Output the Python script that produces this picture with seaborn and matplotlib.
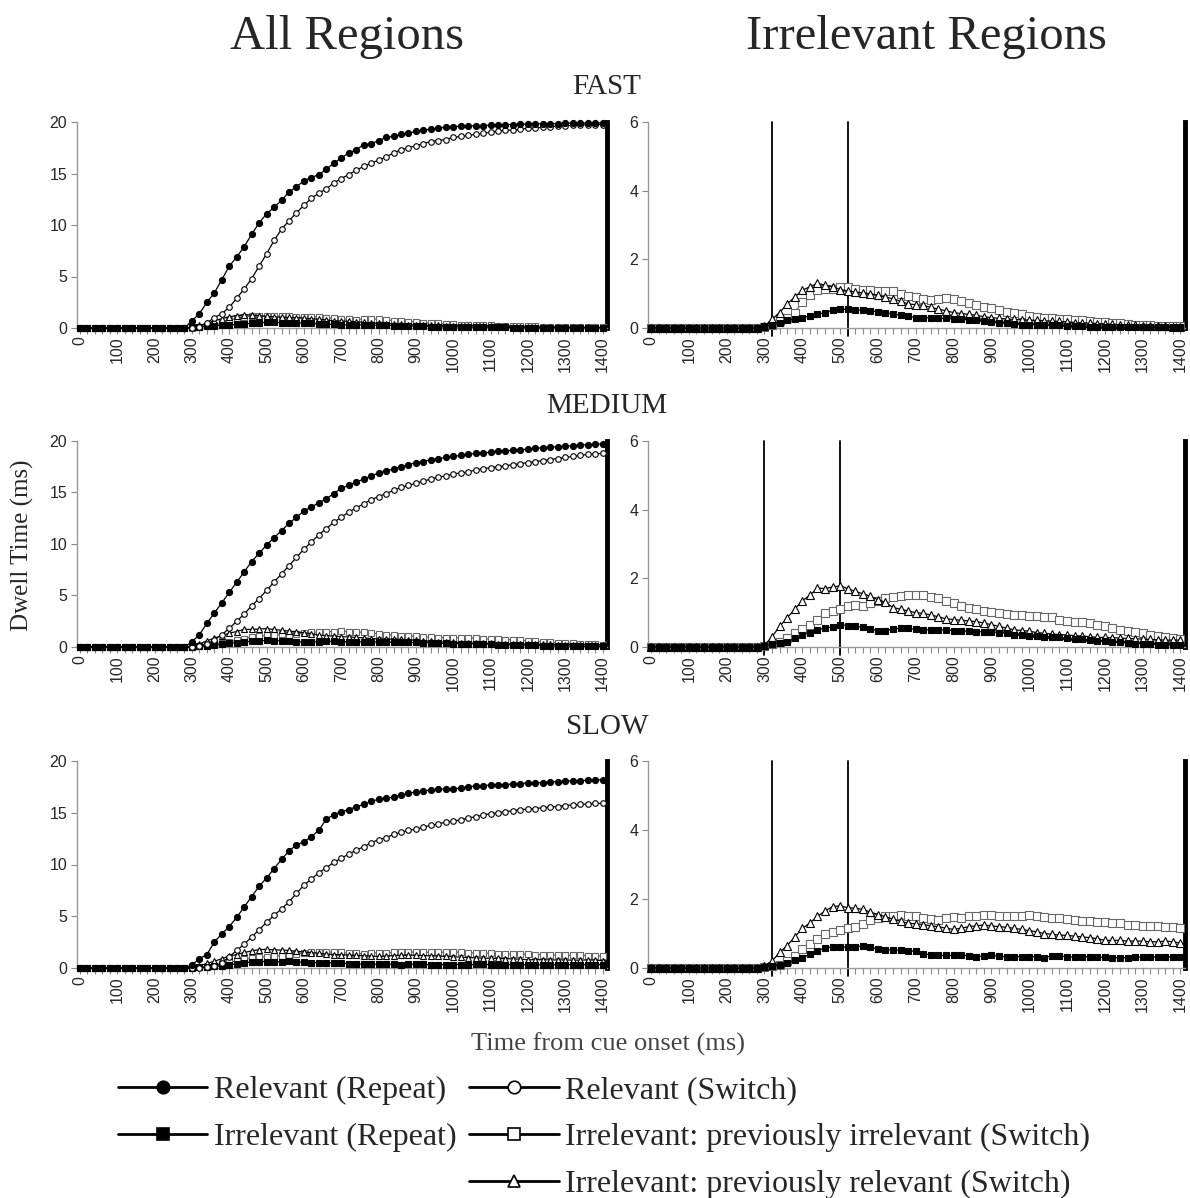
import numpy as np
import pandas as pd
import seaborn as sns
import matplotlib.pyplot as plt
from matplotlib.lines import Line2D

sns.set_style("white")
plt.rcParams["font.family"] = ["Liberation Sans", "DejaVu Sans"]

# time bins (ms from cue onset), 20 ms steps
time_ms = np.arange(0, 1401, 20)

# ---------------- FAST ----------------
fast_rel_repeat = [0, 0, 0, 0, 0, 0, 0, 0, 0, 0, 0, 0, 0, 0, 0,
                   0.7, 1.4, 2.5, 3.4, 4.7,
                   6.0, 6.9, 7.9, 9.1, 10.2, 11.1, 11.7, 12.4, 13.2, 13.7,
                   14.3, 14.6, 14.9, 15.4, 16.0, 16.5, 17.0, 17.3, 17.8, 17.9,
                   18.2, 18.5, 18.6, 18.8, 18.9, 19.1, 19.2, 19.3, 19.4, 19.5,
                   19.55, 19.6, 19.6, 19.65, 19.65, 19.7, 19.7, 19.75, 19.75, 19.8,
                   19.8, 19.8, 19.85, 19.85, 19.85, 19.9, 19.9, 19.9, 19.9, 19.9, 19.9]
fast_rel_switch = [0, 0, 0, 0, 0, 0, 0, 0, 0, 0, 0, 0, 0, 0, 0,
                   0.0, 0.1, 0.5, 1.0, 1.4,
                   2.0, 2.9, 3.8, 4.8, 6.0, 7.2, 8.5, 9.6, 10.4, 11.2,
                   11.9, 12.6, 13.1, 13.5, 14.1, 14.5, 14.9, 15.3, 15.7, 16.0,
                   16.3, 16.6, 17.0, 17.3, 17.5, 17.7, 17.9, 18.1, 18.2, 18.3,
                   18.5, 18.6, 18.7, 18.8, 18.9, 19.0, 19.1, 19.2, 19.2, 19.3,
                   19.4, 19.4, 19.5, 19.55, 19.6, 19.6, 19.7, 19.7, 19.75, 19.75, 19.75]
fast_irr_repeat = [0, 0, 0, 0, 0, 0, 0, 0, 0, 0, 0, 0, 0, 0, 0,
                   0.05, 0.1, 0.15, 0.22, 0.27,
                   0.3, 0.35, 0.4, 0.45, 0.52, 0.55, 0.54, 0.52, 0.52, 0.5,
                   0.48, 0.45, 0.4, 0.38, 0.35, 0.3, 0.3, 0.3, 0.29, 0.28,
                   0.26, 0.25, 0.24, 0.22, 0.21, 0.18, 0.16, 0.14, 0.12, 0.1,
                   0.1, 0.1, 0.09, 0.08, 0.08, 0.07, 0.06, 0.05, 0.04, 0.03,
                   0.02, 0.02, 0.02, 0.02, 0.02, 0.02, 0.02, 0.02, 0.02, 0.02, 0.02]
fast_irr_prev_irr = [0, 0, 0, 0, 0, 0, 0, 0, 0, 0, 0, 0, 0, 0, 0,
                     0.02, 0.1, 0.2, 0.3, 0.45,
                     0.75, 0.95, 1.1, 1.15, 1.15, 1.18, 1.2, 1.15, 1.12, 1.1,
                     1.08, 1.07, 1.08, 1.0, 0.93, 0.9, 0.85, 0.82, 0.85, 0.87,
                     0.85, 0.78, 0.72, 0.66, 0.62, 0.58, 0.52, 0.48, 0.45, 0.4,
                     0.36, 0.32, 0.3, 0.28, 0.26, 0.25, 0.23, 0.22, 0.21, 0.18,
                     0.17, 0.15, 0.14, 0.12, 0.1, 0.09, 0.08, 0.07, 0.06, 0.06, 0.06]
fast_irr_prev_rel = [0, 0, 0, 0, 0, 0, 0, 0, 0, 0, 0, 0, 0, 0, 0,
                     0.05, 0.25, 0.45, 0.7, 0.9,
                     1.1, 1.2, 1.3, 1.25, 1.2, 1.12, 1.08, 1.05, 1.02, 1.0,
                     0.95, 0.9, 0.85, 0.78, 0.7, 0.68, 0.66, 0.6, 0.55, 0.5,
                     0.45, 0.42, 0.4, 0.37, 0.33, 0.3, 0.28, 0.26, 0.25, 0.24,
                     0.23, 0.22, 0.21, 0.2, 0.19, 0.18, 0.16, 0.15, 0.14, 0.13,
                     0.12, 0.11, 0.1, 0.09, 0.08, 0.07, 0.06, 0.05, 0.05, 0.04, 0.04]

# ---------------- MEDIUM ----------------
med_rel_repeat = [0, 0, 0, 0, 0, 0, 0, 0, 0, 0, 0, 0, 0, 0, 0,
                  0.5, 1.2, 2.3, 3.3, 4.3,
                  5.3, 6.3, 7.3, 8.3, 9.1, 9.9, 10.6, 11.3, 12.0, 12.6,
                  13.2, 13.6, 14.0, 14.4, 14.9, 15.4, 15.7, 16.0, 16.3, 16.6,
                  16.9, 17.1, 17.3, 17.5, 17.7, 17.9, 18.0, 18.2, 18.3, 18.4,
                  18.5, 18.6, 18.7, 18.8, 18.85, 18.9, 19.0, 19.05, 19.1, 19.15,
                  19.2, 19.3, 19.35, 19.4, 19.45, 19.5, 19.55, 19.6, 19.65, 19.7, 19.7]
med_rel_switch = [0, 0, 0, 0, 0, 0, 0, 0, 0, 0, 0, 0, 0, 0, 0,
                  0.0, 0.1, 0.3, 0.7, 1.2,
                  1.8, 2.5, 3.2, 4.0, 4.7, 5.5, 6.3, 7.1, 7.9, 8.7,
                  9.5, 10.2, 10.9, 11.5, 12.1, 12.6, 13.1, 13.5, 13.9, 14.3,
                  14.6, 14.9, 15.2, 15.5, 15.7, 15.9, 16.1, 16.3, 16.5, 16.6,
                  16.8, 16.9, 17.0, 17.2, 17.3, 17.4, 17.5, 17.6, 17.7, 17.8,
                  17.9, 18.0, 18.1, 18.2, 18.3, 18.4, 18.5, 18.6, 18.7, 18.75, 18.8]
med_irr_repeat = [0, 0, 0, 0, 0, 0, 0, 0, 0, 0, 0, 0, 0, 0, 0,
                  0.04, 0.08, 0.12, 0.15, 0.25,
                  0.35, 0.42, 0.5, 0.55, 0.58, 0.65, 0.62, 0.6, 0.58, 0.52,
                  0.48, 0.48, 0.52, 0.55, 0.54, 0.52, 0.5, 0.5, 0.5, 0.5,
                  0.48, 0.47, 0.46, 0.45, 0.44, 0.44, 0.42, 0.4, 0.36, 0.34,
                  0.33, 0.32, 0.3, 0.3, 0.28, 0.25, 0.23, 0.22, 0.2, 0.18,
                  0.17, 0.15, 0.14, 0.12, 0.1, 0.1, 0.08, 0.07, 0.06, 0.05, 0.05]
med_irr_prev_irr = [0, 0, 0, 0, 0, 0, 0, 0, 0, 0, 0, 0, 0, 0, 0,
                    0.02, 0.08, 0.15, 0.25, 0.4,
                    0.52, 0.65, 0.8, 1.0, 1.05, 1.12, 1.2, 1.22, 1.2, 1.28,
                    1.35, 1.42, 1.47, 1.48, 1.5, 1.52, 1.5, 1.45, 1.42, 1.35,
                    1.28, 1.2, 1.15, 1.1, 1.05, 1.02, 1.0, 0.95, 0.92, 0.92,
                    0.91, 0.9, 0.88, 0.86, 0.8, 0.76, 0.74, 0.72, 0.7, 0.65,
                    0.6, 0.55, 0.5, 0.46, 0.43, 0.4, 0.36, 0.32, 0.28, 0.25, 0.22]
med_irr_prev_rel = [0, 0, 0, 0, 0, 0, 0, 0, 0, 0, 0, 0, 0, 0, 0,
                    0.05, 0.3, 0.6, 0.85, 1.1,
                    1.35, 1.5, 1.72, 1.7, 1.75, 1.78, 1.7, 1.62, 1.55, 1.48,
                    1.38, 1.3, 1.15, 1.1, 1.05, 1.0, 0.98, 0.93, 0.88, 0.82,
                    0.8, 0.78, 0.76, 0.74, 0.7, 0.65, 0.6, 0.55, 0.5, 0.48,
                    0.46, 0.42, 0.4, 0.38, 0.36, 0.35, 0.33, 0.32, 0.3, 0.28,
                    0.28, 0.27, 0.26, 0.25, 0.24, 0.23, 0.22, 0.21, 0.2, 0.2, 0.2]

# ---------------- SLOW ----------------
slow_rel_repeat = [0, 0, 0, 0, 0, 0, 0, 0, 0, 0, 0, 0, 0, 0, 0,
                   0.3, 0.9, 1.3, 2.5, 3.3,
                   4.0, 4.9, 5.9, 6.9, 7.9, 8.7, 9.6, 10.5, 11.3, 11.9,
                   12.2, 12.7, 13.3, 14.4, 14.8, 15.1, 15.3, 15.6, 15.8, 16.1,
                   16.3, 16.4, 16.5, 16.7, 16.9, 17.0, 17.1, 17.2, 17.3, 17.3,
                   17.3, 17.4, 17.5, 17.6, 17.6, 17.7, 17.7, 17.7, 17.8, 17.8,
                   17.9, 17.9, 17.9, 18.0, 18.0, 18.05, 18.1, 18.1, 18.15, 18.15, 18.2]
slow_rel_switch = [0, 0, 0, 0, 0, 0, 0, 0, 0, 0, 0, 0, 0, 0, 0,
                   0.0, 0.0, 0.1, 0.2, 0.5,
                   1.1, 1.7, 2.3, 3.0, 3.7, 4.4, 5.1, 5.7, 6.4, 7.2,
                   8.0, 8.6, 9.2, 9.7, 10.2, 10.6, 11.0, 11.4, 11.7, 12.1,
                   12.4, 12.6, 12.9, 13.1, 13.3, 13.4, 13.6, 13.8, 13.9, 14.1,
                   14.2, 14.3, 14.5, 14.6, 14.8, 14.9, 15.0, 15.1, 15.2, 15.3,
                   15.35, 15.4, 15.5, 15.55, 15.6, 15.7, 15.75, 15.8, 15.85, 15.9, 15.9]
slow_irr_repeat = [0, 0, 0, 0, 0, 0, 0, 0, 0, 0, 0, 0, 0, 0, 0,
                   0.02, 0.05, 0.1, 0.15, 0.22,
                   0.3, 0.4, 0.5, 0.58, 0.62, 0.62, 0.6, 0.6, 0.65, 0.6,
                   0.55, 0.53, 0.52, 0.52, 0.5, 0.48, 0.42, 0.38, 0.37, 0.37,
                   0.37, 0.37, 0.36, 0.33, 0.35, 0.37, 0.34, 0.33, 0.33, 0.33,
                   0.33, 0.33, 0.3, 0.35, 0.35, 0.33, 0.32, 0.33, 0.32, 0.31,
                   0.31, 0.3, 0.3, 0.3, 0.31, 0.32, 0.32, 0.32, 0.32, 0.32, 0.32]
slow_irr_prev_irr = [0, 0, 0, 0, 0, 0, 0, 0, 0, 0, 0, 0, 0, 0, 0,
                     0.02, 0.05, 0.1, 0.2, 0.35,
                     0.55, 0.7, 0.85, 0.98, 1.05, 1.1, 1.15, 1.2, 1.28, 1.4,
                     1.45, 1.5, 1.52, 1.55, 1.52, 1.5, 1.45, 1.42, 1.38, 1.45,
                     1.48, 1.45, 1.5, 1.52, 1.55, 1.53, 1.52, 1.5, 1.5, 1.52,
                     1.55, 1.5, 1.47, 1.45, 1.45, 1.42, 1.38, 1.35, 1.35, 1.33,
                     1.33, 1.3, 1.3, 1.25, 1.25, 1.22, 1.22, 1.22, 1.2, 1.18, 1.17]
slow_irr_prev_rel = [0, 0, 0, 0, 0, 0, 0, 0, 0, 0, 0, 0, 0, 0, 0,
                     0.05, 0.2, 0.45, 0.65, 0.9,
                     1.15, 1.3, 1.5, 1.65, 1.78, 1.8, 1.75, 1.73, 1.7, 1.62,
                     1.55, 1.48, 1.42, 1.35, 1.3, 1.28, 1.26, 1.22, 1.2, 1.15,
                     1.12, 1.15, 1.2, 1.22, 1.25, 1.22, 1.2, 1.18, 1.15, 1.12,
                     1.08, 1.05, 1.0, 0.98, 0.95, 0.95, 0.92, 0.9, 0.88, 0.85,
                     0.8, 0.8, 0.8, 0.78, 0.78, 0.78, 0.76, 0.76, 0.78, 0.76, 0.72]

speeds = ["FAST", "MEDIUM", "SLOW"]
series_names = ["Relevant (Repeat)", "Relevant (Switch)", "Irrelevant (Repeat)",
                "Irrelevant: previously irrelevant (Switch)",
                "Irrelevant: previously relevant (Switch)"]
panel_data = {
    "FAST": [fast_rel_repeat, fast_rel_switch, fast_irr_repeat, fast_irr_prev_irr, fast_irr_prev_rel],
    "MEDIUM": [med_rel_repeat, med_rel_switch, med_irr_repeat, med_irr_prev_irr, med_irr_prev_rel],
    "SLOW": [slow_rel_repeat, slow_rel_switch, slow_irr_repeat, slow_irr_prev_irr, slow_irr_prev_rel],
}
# vertical reference lines in the irrelevant-region panels
ref_lines = {"FAST": [320, 520], "MEDIUM": [300, 500], "SLOW": [320, 520]}

styles = {
    "Relevant (Repeat)": dict(marker="o", mfc="black", mec="black", color="black", ms=5.5),
    "Relevant (Switch)": dict(marker="o", mfc="white", mec="black", color="black", ms=5),
    "Irrelevant (Repeat)": dict(marker="s", mfc="black", mec="black", color="black", ms=5),
    "Irrelevant: previously irrelevant (Switch)": dict(marker="s", mfc="white", mec="#666666", color="#666666", ms=6),
    "Irrelevant: previously relevant (Switch)": dict(marker="^", mfc="white", mec="black", color="black", ms=5.5),
}
draw_order = [3, 4, 2, 1, 0]

fig = plt.figure(figsize=(11.9, 11.98), dpi=100)
W, H = 1190, 1198
rows_px = [(122, 328), (441, 647), (761, 968)]
left_px = (77, 607)
right_px = (648, 1185)


def style_axis(ax, yticks):
    ax.set_xlim(-8, 1412)
    ax.set_ylim(0, yticks[-1])
    ax.set_xticks(np.arange(0, 1401, 100))
    ax.set_xticks(np.arange(0, 1401, 20), minor=True)
    ax.set_yticks(yticks)
    ax.tick_params(axis="x", which="both", bottom=True, direction="out", length=4,
                   color="#888888", width=0.8)
    ax.tick_params(axis="x", which="major", labelrotation=90, labelsize=11.5, pad=2)
    ax.tick_params(axis="y", left=True, direction="out", length=4, color="#888888",
                   labelsize=11.5, pad=3)
    ax.spines["top"].set_visible(False)
    ax.spines["right"].set_color("black")
    ax.spines["right"].set_linewidth(3.5)
    for s in ("left", "bottom"):
        ax.spines[s].set_color("#999999")
        ax.spines[s].set_linewidth(1.0)
    ax.set_xlabel("")
    ax.set_ylabel("")


for r, speed in enumerate(speeds):
    top, bot = rows_px[r]
    vals = panel_data[speed]
    for c, (x0, x1) in enumerate([left_px, right_px]):
        ax = fig.add_axes([x0 / W, 1 - bot / H, (x1 - x0) / W, (bot - top) / H])
        idx = draw_order if c == 0 else [3, 4, 2]
        scale = 0.8 if c == 0 else 1.0
        for i in idx:
            name = series_names[i]
            st = styles[name]
            sns.lineplot(x=time_ms, y=vals[i], ax=ax, color=st["color"], linewidth=0.9,
                         marker=st["marker"], markerfacecolor=st["mfc"],
                         markeredgecolor=st["mec"], markersize=st["ms"] * scale,
                         markeredgewidth=0.8, clip_on=False, zorder=3)
        if c == 0:
            style_axis(ax, [0, 5, 10, 15, 20])
        else:
            style_axis(ax, [0, 2, 4, 6])
            for v in ref_lines[speed]:
                ax.axvline(v, ymin=-0.04, ymax=1, color="black", lw=1.3, clip_on=False, zorder=2)

serif = ["Liberation Serif", "DejaVu Serif"]
fig.text(347 / W, 1 - 37 / H, "All Regions", family=serif, fontsize=35, ha="center", va="center")
fig.text(926 / W, 1 - 37 / H, "Irrelevant Regions", family=serif, fontsize=35, ha="center", va="center")
for speed, y in zip(speeds, [87, 406, 727]):
    fig.text(607 / W, 1 - y / H, speed, family=serif, fontsize=21, ha="center", va="center")
fig.text(22 / W, 1 - 545 / H, "Dwell Time (ms)", family=serif, fontsize=18, rotation=90,
         ha="center", va="center")
fig.text(608 / W, 1 - 1044 / H, "Time from cue onset (ms)", family=serif, fontsize=19,
         color="#444444", ha="center", va="center")

# legend: two columns, left column has a blank third slot
handles = []
for name in series_names:
    st = styles[name]
    handles.append(Line2D([], [], color="black", lw=2, marker=st["marker"],
                          markerfacecolor=st["mfc"], markeredgecolor="black",
                          markersize=9, markeredgewidth=1.2))
blank = Line2D([], [], linestyle="none")
leg_handles = [handles[0], handles[2], blank, handles[1], handles[3], handles[4]]
leg_labels = [series_names[0], series_names[2], "", series_names[1], series_names[3], series_names[4]]
fig.legend(leg_handles, leg_labels, loc="upper left", bbox_to_anchor=(118 / W, 1 - 1076 / H),
           ncol=2, frameon=False, prop={"family": serif, "size": 23},
           handlelength=2.8, handletextpad=0.2, columnspacing=0.4, labelspacing=0.55,
           borderpad=0, borderaxespad=0)

fig.savefig("out.png", dpi=100)
